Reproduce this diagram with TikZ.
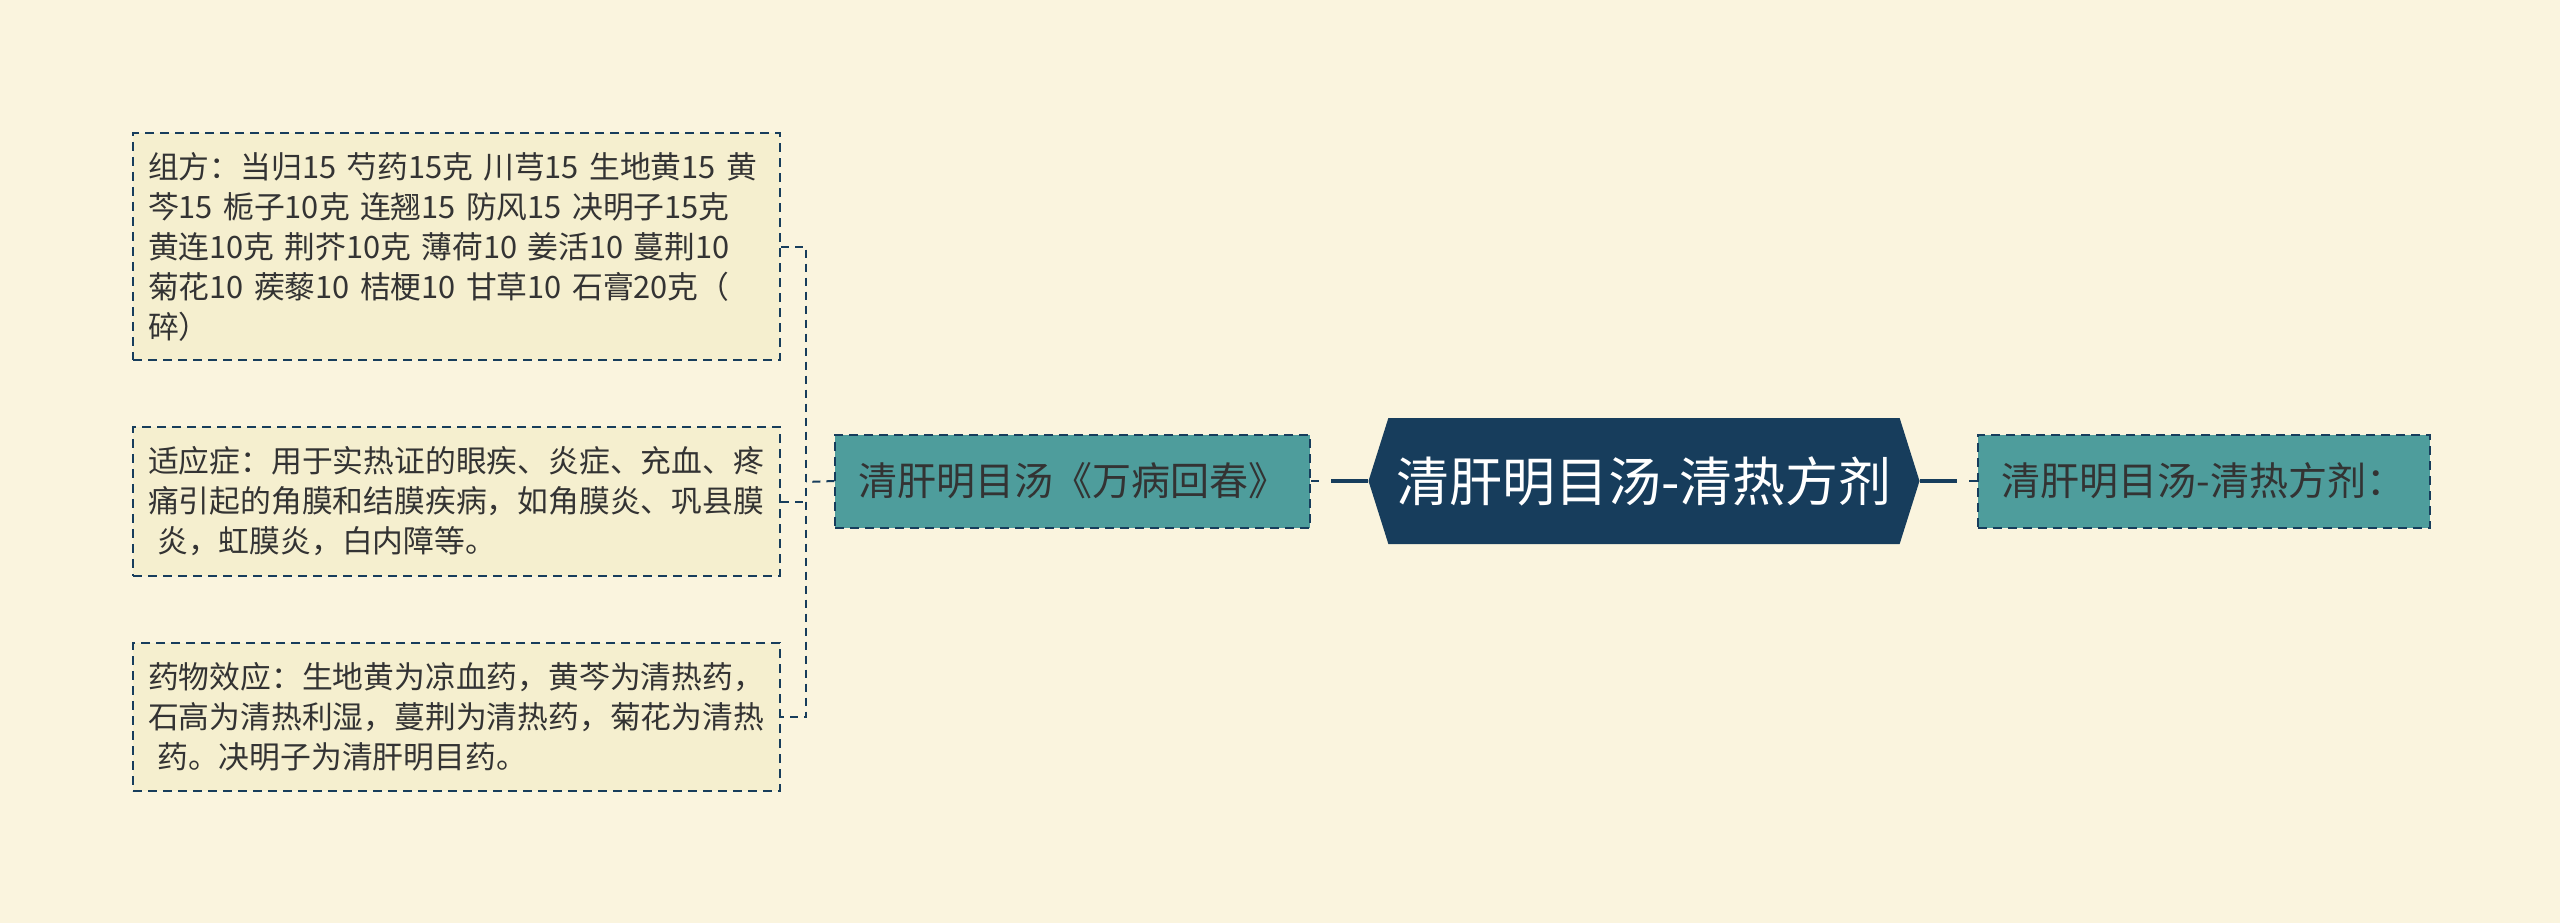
\documentclass[tikz,border=0pt]{standalone}
\usepackage{fontspec}
\newfontfamily\cjk{Noto Sans CJK SC}
\usetikzlibrary{positioning,shapes.symbols}
\definecolor{bgcream}{HTML}{FAF4DE}
\definecolor{boxcream}{HTML}{F5EFCF}
\definecolor{navyblue}{HTML}{173D5C}
\definecolor{tealbox}{HTML}{4E9D9C}
\definecolor{inkgray}{HTML}{333333}
\tikzset{
  notebox/.style={draw=navyblue, line width=2pt, dash pattern=on 9pt off 6pt,
    fill=boxcream, anchor=north west, align=left, text width=617pt,
    minimum width=647pt, inner xsep=15pt, inner ysep=0pt, text=inkgray,
    font=\cjk\fontsize{30.8}{40}\selectfont},
  subtopic/.style={draw=navyblue, line width=2pt, dash pattern=on 9pt off 6pt,
    fill=tealbox, minimum height=93pt, text=inkgray,
    font=\cjk\fontsize{39}{46}\selectfont},
  roottopic/.style={signal, signal to=west and east, signal pointer angle=145,
    fill=navyblue, text=white, minimum width=551pt, minimum height=126pt,
    inner sep=0pt, font=\cjk\fontsize{53}{62}\selectfont},
  solidlink/.style={draw=navyblue, line width=4pt},
  dashlink/.style={draw=navyblue, line width=2pt, dash pattern=on 8pt off 6pt}
}
\begin{document}
\begin{tikzpicture}[x=1pt,y=-1pt]
  \fill[bgcream] (0,0) rectangle (2560,923);
  \useasboundingbox (0,0) rectangle (2560,923);

  \node[roottopic] (root) at (1644,481) {清肝明目汤-清热方剂};
  \node[subtopic, minimum width=475pt, left=57pt of root] (book) {清肝明目汤《万病回春》};
  \node[subtopic, minimum width=452pt, right=57pt of root] (ptitle) {清肝明目汤-清热方剂：};

  \node[notebox, minimum height=227pt] (recipe) at (132,132)
    {组方：当归15 芍药15克 川芎15 生地黄15 黄\\
     芩15 栀子10克 连翘15 防风15 决明子15克\\
     黄连10克 荆芥10克 薄荷10 姜活10 蔓荆10\\
     菊花10 蒺藜10 桔梗10 甘草10 石膏20克（\\
     碎）};
  \node[notebox, minimum height=149pt] (usage) at (132,426)
    {适应症：用于实热证的眼疾、炎症、充血、疼\\
     痛引起的角膜和结膜疾病，如角膜炎、巩县膜\\
     \hspace*{.3em}炎，虹膜炎，白内障等。};
  \node[notebox, minimum height=148pt] (effect) at (132,642)
    {药物效应：生地黄为凉血药，黄芩为清热药，\\
     石高为清热利湿，蔓荆为清热药，菊花为清热\\
     \hspace*{.3em}药。决明子为清肝明目药。};

  \draw[solidlink, shorten >=20pt] (root.west) -- (book.east);
  \draw[dashlink] (book.east) -- ([xshift=13pt]book.east);
  \draw[solidlink, shorten >=20pt] (root.east) -- (ptitle.west);
  \draw[dashlink] (ptitle.west) -- ([xshift=-13pt]ptitle.west);

  \coordinate (fork) at (806,482);
  \draw[dashlink] (book.west) -- (fork);
  \draw[dashlink] (recipe.east) -| (fork) |- (effect.east);
  \draw[dashlink] (usage.east) -- (fork |- usage.east);
\end{tikzpicture}
\end{document}
